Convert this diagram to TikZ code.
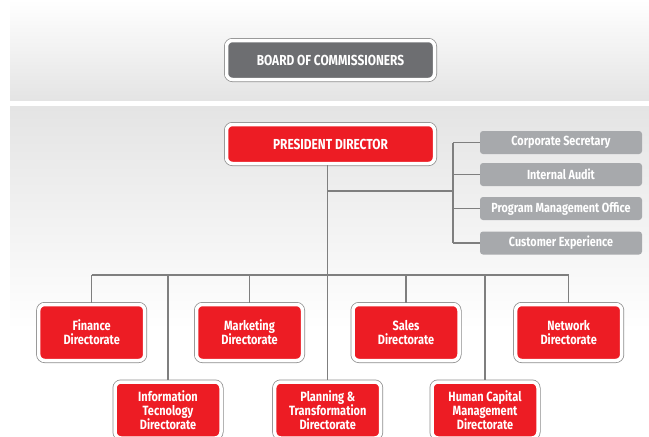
\documentclass[tikz,border=0pt]{standalone}
\usepackage{fontspec}
\setmainfont{Fira Sans}[FakeStretch=0.82]
\usepackage{tikz}
\usetikzlibrary{positioning}
\usetikzlibrary{shapes.geometric, arrows}

\definecolor{dirRed}{HTML}{ED1C24}
\definecolor{boardGray}{HTML}{6D6E71}
\definecolor{unitGray}{HTML}{A7A9AC}
\definecolor{ringGray}{HTML}{8C8C8C}
\definecolor{lineGray}{HTML}{7F7F7F}
\definecolor{panelGray}{HTML}{E4E4E4}

\tikzstyle{ringbox} = [draw=white,line width=3.5pt,rounded corners=6pt,text=white,font=\bfseries,align=center,preaction={draw=ringGray,line width=5pt}]
\tikzstyle{topbox} = [ringbox,minimum width=208pt,minimum height=39pt,font=\bfseries\fontsize{14.5}{16}\selectfont]
\tikzstyle{dirbox} = [ringbox,fill=dirRed,minimum width=106pt,minimum height=56pt,font=\bfseries\fontsize{13.4}{14.2}\selectfont]
\tikzstyle{unitbox} = [fill=unitGray,rounded corners=3pt,text=white,minimum width=162pt,minimum height=23pt,font=\bfseries\fontsize{13.2}{14}\selectfont]
\tikzstyle{line} = [draw=lineGray,line width=1.1pt]

\begin{document}
\begin{tikzpicture}[x=1pt,y=-1pt]
					\useasboundingbox (0,0) rectangle (649,437);
					\clip (0,0) rectangle (649,437);
					
					%Panels
					\fill[top color=white,bottom color=panelGray] (10,0) rectangle (649,100);
					\fill[top color=panelGray,bottom color=white] (10,106) rectangle (649,330);
					
					%Nodes
					\node[topbox,fill=boardGray] (Board) at (330.5,60) {BOARD OF COMMISSIONERS};
					\node[topbox,fill=dirRed] (President) at (330.5,144) {PRESIDENT DIRECTOR};
					
					\node[unitbox] (CorpSec) at (561,142.5) {Corporate Secretary};
					\node[unitbox] (Audit) at (561,174.5) {Internal Audit};
					\node[unitbox] (PMO) at (561,208.5) {Program Management Office};
					\node[unitbox] (CustExp) at (561,243) {Customer Experience};
					
					\node[dirbox] (Finance) at (91.7,332.5) {Finance\\Directorate};
					\node[dirbox] (Marketing) at (249.5,332.5) {Marketing\\Directorate};
					\node[dirbox] (Sales) at (406,332.5) {Sales\\Directorate};
					\node[dirbox] (Network) at (568.7,332.5) {Network\\Directorate};
					\node[dirbox] (IT) at (168,410) {Information\\Tecnology\\Directorate};
					\node[dirbox] (Planning) at (327.7,410) {Planning \&\\Transformation\\Directorate};
					\node[dirbox] (HCM) at (485,410) {Human Capital\\Management\\Directorate};
					
					\coordinate (bus) at (0,275);
					\coordinate (brk) at (453,191);
					
					%Lines
					\draw[line] (Planning.north |- President.south) -- (Planning.north);
					\draw[line] (Planning.north |- brk) -- (brk);
					\draw[line] (CorpSec.west -| brk) -- (CustExp.west -| brk);
					\foreach \u in {CorpSec,Audit,PMO,CustExp}
						\draw[line] (\u.west -| brk) -- (\u.west);
					\draw[line] (Finance.north |- bus) -- (Network.north |- bus);
					\foreach \d in {Finance,Marketing,Sales,Network,IT,HCM}
						\draw[line] (\d.north |- bus) -- (\d.north);
				\end{tikzpicture}
\end{document}
